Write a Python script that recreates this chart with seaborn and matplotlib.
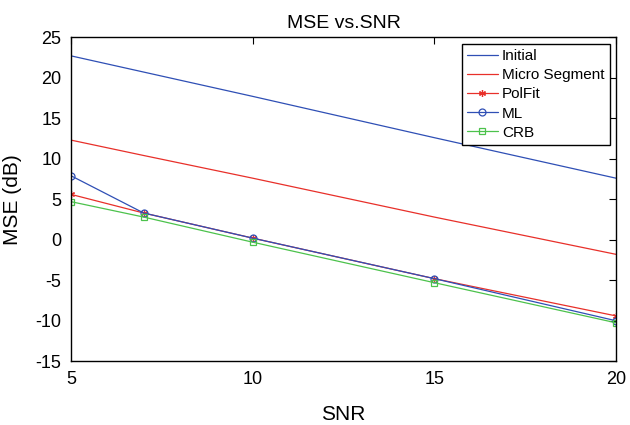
import matplotlib
matplotlib.use("Agg")
import matplotlib.pyplot as plt
import seaborn as sns
import pandas as pd

snr = [5, 7, 10, 15, 20]
initial = [22.7, 20.7, 17.7, 12.6, 7.6]
micro = [12.3, 10.4, 7.6, 2.8, -1.8]
polfit = [5.6, 3.3, 0.2, -4.8, -9.4]
ml = [7.9, 3.3, 0.2, -4.8, -10.0]
crb = [4.7, 2.8, -0.3, -5.3, -10.25]

sns.set_theme(style="white")
plt.rcParams['font.family'] = ['Liberation Sans', 'DejaVu Sans']
plt.rcParams['axes.unicode_minus'] = False

fig = plt.figure(figsize=(6.3, 4.25), dpi=100)
ax = fig.add_axes([0.1127, 0.150, 0.865, 0.7624])

series = [
    ("Initial", initial, "#2f4fb5", None),
    ("Micro Segment", micro, "#e8302a", None),
    ("PolFit", polfit, "#e8302a", (6, 2, 0)),
    ("ML", ml, "#2f4fb5", "o"),
    ("CRB", crb, "#4cc24c", "s"),
]
for name, vals, col, mk in series:
    df = pd.DataFrame({"SNR": snr, "MSE": vals})
    sns.lineplot(data=df, x="SNR", y="MSE", ax=ax, color=col, lw=0.9,
                 marker=mk, markersize=5 if mk else 0, markerfacecolor="none",
                 markeredgecolor=col, markeredgewidth=0.9, label=name)

ax.set_xlim(5, 20)
ax.set_ylim(-15, 25)
ax.set_xticks([5, 10, 15, 20])
ax.set_yticks(range(-15, 26, 5))
ax.tick_params(direction="in", length=5, top=True, right=True, labelsize=13,
               colors="black", width=0.8, pad=7)
for s in ax.spines.values():
    s.set_color("black")
    s.set_linewidth(1.0)
ax.set_xlabel("SNR", fontsize=15, color="black", labelpad=12)
ax.set_ylabel("MSE (dB)", fontsize=15, color="black")
ax.yaxis.set_label_coords(-0.09, 0.5)
ax.set_title("MSE vs.SNR", fontsize=14, color="black", pad=7)
leg = ax.legend(loc="upper right", fontsize=11, frameon=True, fancybox=False,
                edgecolor="black", borderpad=0.35, handlelength=2.0,
                labelspacing=0.33, handletextpad=0.3, borderaxespad=0.0,
                bbox_to_anchor=(0.989, 0.979), framealpha=1)
leg.get_frame().set_linewidth(1.0)
for t in leg.get_texts():
    t.set_color("black")
fig.savefig("out.png", dpi=100)
